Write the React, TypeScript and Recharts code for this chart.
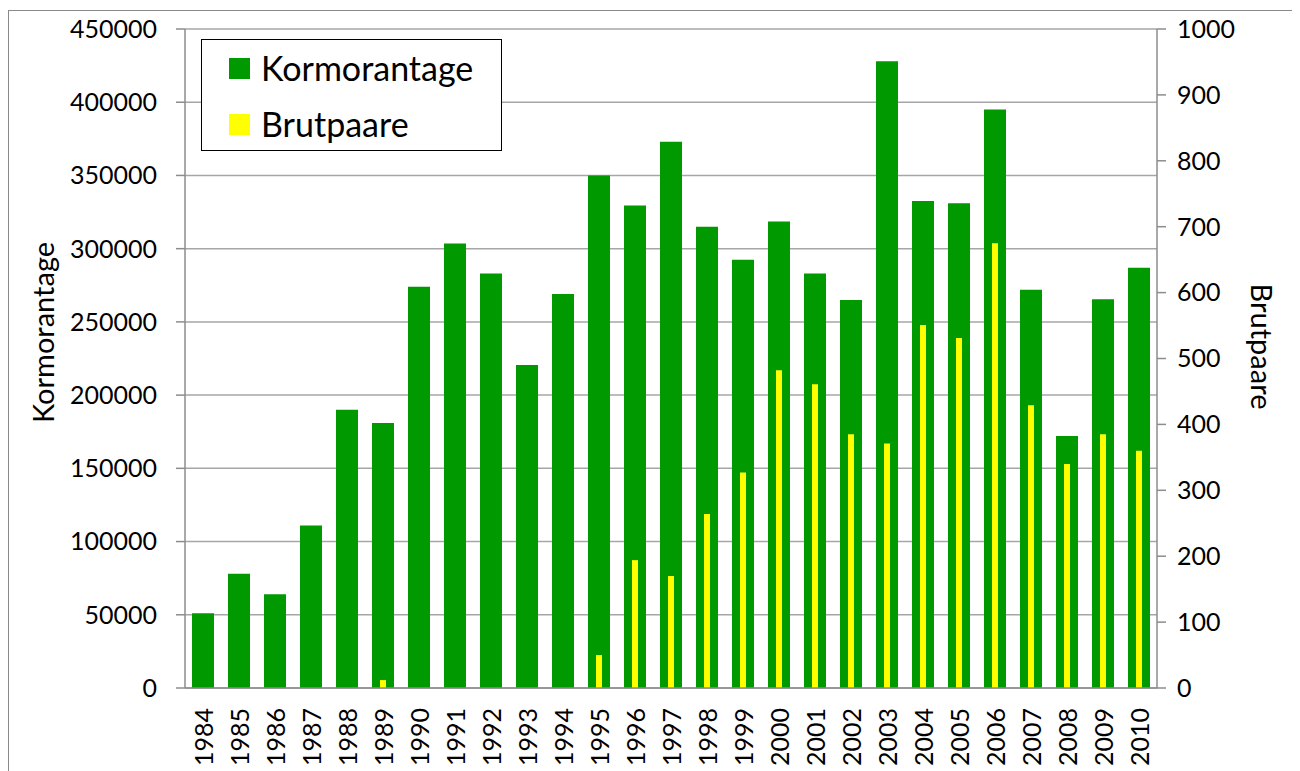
import React from 'react';
import { ComposedChart, Bar, XAxis, YAxis, CartesianGrid, Legend } from 'recharts';

const years = ['1984','1985','1986','1987','1988','1989','1990','1991','1992','1993','1994','1995','1996','1997','1998','1999','2000','2001','2002','2003','2004','2005','2006','2007','2008','2009','2010'];
const kormorantage = [51000, 78000, 64000, 111000, 190000, 181000, 274000, 303500, 283000, 220500, 269000, 350000, 329500, 373000, 315000, 292500, 318500, 283000, 265000, 428000, 332500, 331000, 395000, 272000, 172000, 265500, 287000];
const brutpaare = [0, 0, 0, 0, 0, 12, 0, 0, 0, 0, 0, 50, 194, 170, 264, 327, 482, 461, 385, 371, 551, 531, 675, 429, 340, 385, 360];
const leftTicks = [0, 50000, 100000, 150000, 200000, 250000, 300000, 350000, 400000, 450000];
const rightTicks = [0, 100, 200, 300, 400, 500, 600, 700, 800, 900, 1000];
const seriesOrder = ['Kormorantage', 'Brutpaare'];

const data = years.map((y, i) => ({ year: y, pos: i + 0.5, Kormorantage: kormorantage[i], Brutpaare: brutpaare[i] }));
const boundTicks = Array.from({ length: years.length + 1 }, (_, i) => i);

const FONT = 'Lato, "Open Sans", sans-serif';
const GREEN = '#009900';
const YELLOW = '#ffff00';
const AXIS = '#8c8c8c';

const XTick = (props: any) => {
  const { x, y, payload } = props;
  return (
    <text x={x} y={y} transform={`rotate(-90 ${x} ${y})`} textAnchor="end" dominantBaseline="central" fontFamily={FONT} fontSize={25} fill="#000">
      {payload.value}
    </text>
  );
};

const LeftTitle = (props: any) => {
  const vb = props.viewBox;
  const cx = vb.x + 33;
  const cy = vb.y + vb.height / 2 - 26;
  return (
    <text x={cx} y={cy} transform={`rotate(-90 ${cx} ${cy})`} textAnchor="middle" dominantBaseline="central" fontFamily={FONT} fontSize={29} fill="#000">
      Kormorantage
    </text>
  );
};

const RightTitle = (props: any) => {
  const vb = props.viewBox;
  const cx = vb.x + 105;
  const cy = vb.y + vb.height / 2 - 12;
  return (
    <text x={cx} y={cy} transform={`rotate(90 ${cx} ${cy})`} textAnchor="middle" dominantBaseline="central" fontFamily={FONT} fontSize={29} fill="#000">
      Brutpaare
    </text>
  );
};

const renderLegend = (props: any) => {
  const payload = [...(props.payload || [])].sort(
    (a: any, b: any) => seriesOrder.indexOf(a.value) - seriesOrder.indexOf(b.value)
  );
  return (
    <div style={{ position: 'relative', width: 301, height: 112, boxSizing: 'border-box', border: '1.5px solid #000', background: '#fff' }}>
      {payload.map((p: any, i: number) => (
        <div key={p.value} style={{ position: 'absolute', left: 27, top: 17 + i * 56, display: 'flex', alignItems: 'center', height: 22 }}>
          <div style={{ width: 21, height: 21, background: p.color }} />
          <span style={{ marginLeft: 11, fontFamily: FONT, fontSize: 34, color: '#000', lineHeight: '22px' }}>{p.value}</span>
        </div>
      ))}
    </div>
  );
};

export default function App() {
  return (
    <div style={{ position: 'relative', top: 2, width: 1287, height: 790, border: '1px solid #898989', boxSizing: 'border-box', background: '#fff' }}>
      <ComposedChart width={1285} height={760} data={data} margin={{ top: 18, right: 17, left: 0, bottom: 0 }} barGap={0}>
        <CartesianGrid horizontal vertical={false} stroke="#a6a6a6" strokeWidth={1.5} yAxisId="left" xAxisId="cat" />
        <XAxis xAxisId="bound" type="number" dataKey="pos" domain={[0, years.length]} ticks={boundTicks} tick={false} tickSize={9} axisLine={false} tickLine={{ stroke: AXIS, strokeWidth: 1.5 }} height={0} allowDataOverflow />
        <XAxis xAxisId="cat" dataKey="year" tick={<XTick />} tickLine={false} tickSize={9} tickMargin={11} axisLine={{ stroke: AXIS, strokeWidth: 1.5 }} height={83} interval={0} />
        <XAxis xAxisId="cat2" dataKey="year" hide />
        <YAxis yAxisId="left" width={176} domain={[0, 450000]} ticks={leftTicks} tickSize={9} tickMargin={19} axisLine={{ stroke: AXIS, strokeWidth: 1.5 }} tickLine={{ stroke: AXIS, strokeWidth: 1.5 }} tick={{ fontFamily: FONT, fontSize: 25, fill: '#000' }} interval={0} label={{ content: <LeftTitle /> } as any} />
        <YAxis yAxisId="right" orientation="right" width={120} domain={[0, 1000]} ticks={rightTicks} tickSize={9} tickMargin={11} axisLine={{ stroke: AXIS, strokeWidth: 1.5 }} tickLine={{ stroke: AXIS, strokeWidth: 1.5 }} tick={{ fontFamily: FONT, fontSize: 25, fill: '#000', textAnchor: 'start' }} interval={0} label={{ content: <RightTitle /> } as any} />
        <Legend layout="vertical" align="center" verticalAlign="middle" content={renderLegend} wrapperStyle={{ left: 192, top: 28, width: 301, height: 112 }} />
        <Bar dataKey="Kormorantage" name="Kormorantage" xAxisId="cat" yAxisId="left" fill={GREEN} barSize={22} isAnimationActive={false} />
        <Bar dataKey="Brutpaare" name="Brutpaare" xAxisId="cat2" yAxisId="right" fill={YELLOW} barSize={6} isAnimationActive={false} />
      </ComposedChart>
    </div>
  );
}
